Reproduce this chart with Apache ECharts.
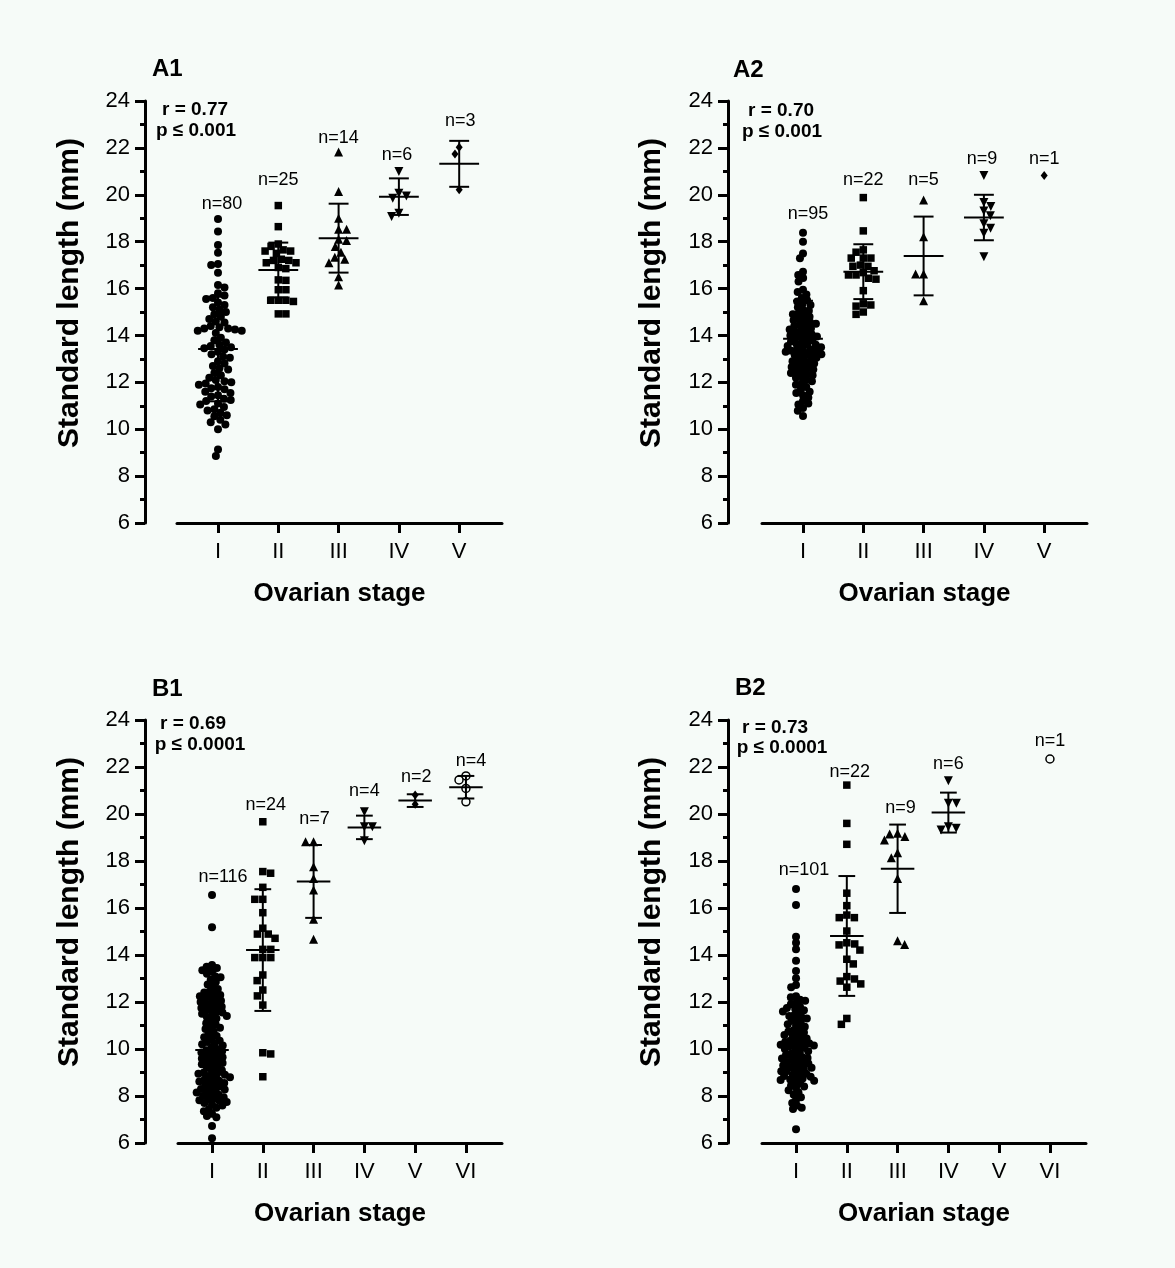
<!DOCTYPE html>
<html>
<head>
<meta charset="utf-8">
<script src="https://cdn.jsdelivr.net/npm/echarts@6.0.0/dist/echarts.min.js"></script>
<style>
html,body{margin:0;padding:0;background:#f6fbf8;}
#chart{width:1175px;height:1268px;}
</style>
</head>
<body>
<div id="chart"></div>
<script>
// ---------------- DATA ----------------
const STAGES_A = ['I', 'II', 'III', 'IV', 'V'];
const STAGES_B = ['I', 'II', 'III', 'IV', 'V', 'VI'];
const Y_TICKS = [6, 8, 10, 12, 14, 16, 18, 20, 22, 24];

// Panel A1
const A1_I = [18.97, 18.43, 17.86, 17.53, 17.05, 17.0, 16.67, 16.15, 16.05,
  15.8, 15.7, 15.6, 15.55, 15.4, 15.3, 15.2, 15.1, 15.0,
  14.9, 14.8, 14.7, 14.6, 14.55, 14.4, 14.35, 14.3, 14.3, 14.25, 14.2, 14.2, 14.1,
  13.9, 13.8, 13.7, 13.6, 13.55, 13.5, 13.45, 13.4, 13.3, 13.2, 13.1, 13.05,
  12.9, 12.8, 12.7, 12.6, 12.55, 12.4, 12.3, 12.2, 12.1, 12.05, 12.0,
  11.95, 11.9, 11.8, 11.75, 11.7, 11.6, 11.55, 11.45, 11.4, 11.3, 11.25, 11.2, 11.1, 11.05,
  10.95, 10.85, 10.8, 10.7, 10.6, 10.55, 10.4, 10.3, 10.2, 10.0, 9.14, 8.86];
const A1_II = [19.54, 18.64, 17.9, 17.8, 17.65, 17.6, 17.6, 17.5, 17.25, 17.2, 17.2, 17.1, 17.1,
  16.9, 16.85, 16.37, 16.35, 15.95, 15.95, 15.5, 15.5, 15.5, 15.45, 14.92, 14.92];
const A1_III = [21.82, 20.14, 19.0, 18.53, 18.53, 18.1, 18.05, 17.79, 17.55, 17.33, 17.25, 17.1, 16.5, 16.15];
const A1_IV = [20.99, 20.07, 19.95, 19.85, 19.21, 19.07];
const A1_V = [22.03, 21.74, 20.21];
const A1_MEAN = [13.42, 16.79, 18.15, 19.92, 21.32];
const A1_SD = [2.23, 1.17, 1.47, 0.78, 0.98];

// Panel A2
const A2_I = [18.38, 18.0, 17.5, 17.29, 16.72, 16.58, 16.45, 16.3,
  15.95, 15.85, 15.75, 15.6, 15.5, 15.45, 15.35, 15.3, 15.2, 15.1, 15.05,
  14.95, 14.9, 14.85, 14.8, 14.7, 14.65, 14.6, 14.55, 14.5,
  14.45, 14.4, 14.35, 14.3, 14.25, 14.2, 14.15, 14.1, 14.05, 14.0,
  13.95, 13.95, 13.9, 13.85, 13.8, 13.75, 13.7, 13.65, 13.6, 13.6, 13.55, 13.5,
  13.45, 13.4, 13.4, 13.35, 13.3, 13.3, 13.25, 13.2, 13.2, 13.15, 13.1, 13.05, 13.0,
  12.95, 12.9, 12.85, 12.8, 12.75, 12.7, 12.65, 12.6, 12.55, 12.5,
  12.45, 12.4, 12.35, 12.3, 12.25, 12.2, 12.1, 12.05,
  11.95, 11.9, 11.8, 11.7, 11.6, 11.55, 11.45, 11.35, 11.2, 11.1, 11.05,
  10.9, 10.79, 10.56];
const A2_II = [19.88, 18.46, 17.65, 17.55, 17.3, 17.3, 17.3, 17.0, 16.95, 16.95, 16.76, 16.68,
  16.58, 16.58, 16.44, 16.4, 15.91, 15.35, 15.3, 15.25, 15.0, 14.9];
const A2_III = [19.78, 18.21, 16.62, 16.62, 15.48];
const A2_IV = [20.82, 19.67, 19.5, 19.31, 19.11, 18.76, 18.57, 18.36, 17.36];
const A2_V = [20.82];
const A2_MEAN = [13.86, 16.72, 17.39, 19.03, 20.82];
const A2_SD = [1.62, 1.17, 1.68, 0.97, 0];

// Panel B1
const B1_I = [16.55, 15.18,
  13.57, 13.5, 13.45, 13.35, 13.3, 13.2, 13.1, 13.05,
  12.95, 12.85, 12.75, 12.65, 12.55,
  12.45, 12.4, 12.35, 12.3, 12.25, 12.2, 12.15, 12.1, 12.05, 12.0,
  11.95, 11.9, 11.85, 11.8, 11.75, 11.7, 11.65, 11.6, 11.55, 11.5,
  11.45, 11.4, 11.35, 11.3, 11.2, 11.1, 11.05,
  10.95, 10.9, 10.85, 10.75, 10.65, 10.55, 10.5,
  10.45, 10.35, 10.3, 10.25, 10.2, 10.15, 10.05, 10.0,
  9.95, 9.9, 9.85, 9.8, 9.75, 9.7, 9.65, 9.6, 9.55, 9.5,
  9.45, 9.4, 9.35, 9.3, 9.25, 9.2, 9.1, 9.05, 9.0,
  8.95, 8.95, 8.9, 8.85, 8.8, 8.75, 8.7, 8.65, 8.62, 8.6, 8.55, 8.5,
  8.45, 8.4, 8.35, 8.3, 8.28, 8.25, 8.2, 8.15, 8.1, 8.05, 8.0,
  7.95, 7.9, 7.85, 7.82, 7.8, 7.75, 7.7, 7.65, 7.6, 7.5,
  7.45, 7.35, 7.25, 7.15, 7.1, 6.72, 6.2];
const B1_II = [19.67, 17.55, 17.48, 16.88, 16.37, 16.37, 15.8, 15.14, 14.89, 14.89, 14.71, 14.24,
  14.24, 13.89, 13.89, 13.89, 13.15, 12.91, 12.51, 12.26, 11.87, 9.84, 9.79, 8.82];
const B1_III = [18.82, 18.82, 17.76, 17.26, 16.77, 15.52, 14.67];
const B1_IV = [20.1, 19.46, 19.46, 18.86];
const B1_V = [20.81, 20.41];
const B1_VI = [21.62, 21.45, 21.09, 20.52];
const B1_MEAN = [9.96, 14.21, 17.13, 19.43, 20.57, 21.14];
const B1_SD = [1.95, 2.59, 1.55, 0.5, 0.27, 0.48];

// Panel B2
const B2_I = [16.81, 16.13, 14.78, 14.52, 14.24, 13.76, 13.32, 13.01, 12.72, 12.63,
  12.25, 12.2, 12.1, 12.05,
  11.95, 11.9, 11.8, 11.75, 11.7, 11.65, 11.6, 11.55,
  11.45, 11.4, 11.35, 11.3, 11.25, 11.2, 11.1, 11.05, 11.0,
  10.95, 10.85, 10.8, 10.75, 10.7, 10.65, 10.6, 10.55, 10.5,
  10.45, 10.4, 10.35, 10.3, 10.28, 10.25, 10.2, 10.18, 10.15, 10.12, 10.1, 10.05, 10.0,
  9.95, 9.9, 9.85, 9.8, 9.75, 9.7, 9.65, 9.62, 9.6, 9.55, 9.5,
  9.45, 9.4, 9.38, 9.35, 9.3, 9.25, 9.22, 9.2, 9.15, 9.1, 9.05, 9.05, 9.0,
  8.95, 8.9, 8.85, 8.82, 8.8, 8.75, 8.7, 8.68, 8.65, 8.6, 8.55,
  8.45, 8.4, 8.35, 8.25, 8.15, 8.05,
  7.95, 7.85, 7.7, 7.6, 7.5, 7.45, 6.58];
const B2_II = [21.23, 19.6, 18.71, 16.63, 16.1, 15.7, 15.59, 15.59, 15.02, 14.52, 14.47, 14.43,
  14.21, 13.82, 13.62, 13.08, 12.98, 12.89, 12.77, 12.63, 11.3, 11.05];
const B2_III = [19.18, 19.15, 19.04, 18.89, 18.35, 18.14, 17.26, 14.61, 14.45];
const B2_IV = [21.42, 20.46, 20.46, 19.46, 19.39, 19.32];
const B2_V = [];
const B2_VI = [22.34];
const B2_MEAN = [10.27, 14.81, 17.67, 20.06, null, 22.34];
const B2_SD = [1.84, 2.55, 1.88, 0.85, null, 0];

const STATS_TEXT = {
  A1: ['r = 0.77', 'p ≤ 0.001'],
  A2: ['r = 0.70', 'p ≤ 0.001'],
  B1: ['r = 0.69', 'p ≤ 0.0001'],
  B2: ['r = 0.73', 'p ≤ 0.0001']
};
const Y_NAME = 'Standard length (mm)';
const X_NAME = 'Ovarian stage';

// ---------------- LAYOUT ----------------
const FONT = "'Liberation Sans', Arial, Helvetica, sans-serif";
const BG = '#f6fbf8';
const INK = '#000000';
const LAYOUT = {
  A1: {grid: {left: 177, top: 101, width: 325, height: 422}, xmin: 0.32, xmax: 5.71, yOffset: 32,
       title: [152, 69], r: [195, 110], p: [196, 131], yName: [70, 293],
       swarmD: [6.9, 7.6, 8, 8, 8],
       nLabY: [19.61, 20.63, 22.42, 21.70, 23.15], nLabDx: [4, 0, 0, -2, 1]},
  A2: {grid: {left: 762, top: 101, width: 325, height: 422}, xmin: 0.32, xmax: 5.71, yOffset: 34,
       title: [733, 70], r: [781, 111], p: [782, 132], yName: [652, 293],
       swarmD: [5.8, 7.6, 8, 8, 8],
       nLabY: [19.18, 20.63, 20.63, 21.53, 21.53], nLabDx: [5, 0, 0, -2, 0]},
  B1: {grid: {left: 178, top: 720, width: 324, height: 423}, xmin: 0.33, xmax: 6.71, yOffset: 33,
       title: [152, 689], r: [193, 724], p: [200, 745], yName: [70, 912],
       swarmD: [5.6, 8, 8, 8, 8, 8],
       nLabY: [17.32, 20.38, 19.79, 20.98, 21.57, 22.26], nLabDx: [11, 3, 1, 0, 1, 5]},
  B2: {grid: {left: 762, top: 720, width: 324, height: 423}, xmin: 0.33, xmax: 6.71, yOffset: 34,
       title: [735, 688], r: [775, 728], p: [782, 748], yName: [652, 912],
       swarmD: [5.3, 8, 8, 8, 8, 8],
       nLabY: [17.62, 21.79, 20.26, 22.13, null, 23.11], nLabDx: [8, 3, 3, 0, 0, 0]}
};
const SYMBOLS = [
  {symbol: 'circle', size: 8, fill: INK},
  {symbol: 'rect', size: 7.5, fill: INK},
  {symbol: 'triangle', size: 9, fill: INK},
  {symbol: 'path://M0,0L10,0L5,9Z', size: 9, fill: INK},
  {symbol: 'diamond', size: [7, 9], fill: INK},
  {symbol: 'circle', size: 8, fill: BG, border: 1.5}
];

const PANELS = [
  {key: 'A1', stages: STAGES_A, groups: [A1_I, A1_II, A1_III, A1_IV, A1_V], means: A1_MEAN, sds: A1_SD},
  {key: 'A2', stages: STAGES_A, groups: [A2_I, A2_II, A2_III, A2_IV, A2_V], means: A2_MEAN, sds: A2_SD},
  {key: 'B1', stages: STAGES_B, groups: [B1_I, B1_II, B1_III, B1_IV, B1_V, B1_VI], means: B1_MEAN, sds: B1_SD},
  {key: 'B2', stages: STAGES_B, groups: [B2_I, B2_II, B2_III, B2_IV, B2_V, B2_VI], means: B2_MEAN, sds: B2_SD}
];

// beeswarm layout: horizontal pixel offsets so that markers do not overlap
function swarm(values, pxPerY, D) {
  const order = values.map((v, i) => i).sort((a, b) => values[b] - values[a]);
  const placed = [];
  const out = new Array(values.length).fill(0);
  let flip = 1;
  for (const i of order) {
    const y = values[i] * pxPerY;
    const near = placed.filter(p => Math.abs(p.y - y) < D);
    const cands = [0];
    near.forEach(p => {
      const w = Math.sqrt(D * D - (p.y - y) * (p.y - y));
      cands.push(p.x + w, p.x - w);
    });
    const f = flip;
    cands.sort((a, b) => (Math.abs(a) - Math.abs(b)) || (f > 0 ? b - a : a - b));
    let best = 0;
    for (const c of cands) {
      if (near.every(p => (p.x - c) * (p.x - c) + (p.y - y) * (p.y - y) >= D * D - 1e-6)) { best = c; break; }
    }
    flip = -flip;
    placed.push({x: best, y: y});
    out[i] = best;
  }
  return out;
}

const grids = [], xAxes = [], yAxes = [], series = [], graphics = [];
const axisLineStyle = {color: INK, width: 3};

PANELS.forEach((P, pi) => {
  const L = LAYOUT[P.key];
  grids.push(Object.assign({containLabel: false}, L.grid));
  const cats = P.stages.map((s, i) => i + 1);
  xAxes.push({
    gridIndex: pi, type: 'value', min: L.xmin, max: L.xmax,
    name: X_NAME, nameLocation: 'middle', nameGap: 58,
    nameTextStyle: {fontFamily: FONT, fontSize: 26, fontWeight: 'bold', color: INK},
    axisLine: {show: true, lineStyle: axisLineStyle},
    axisTick: {show: true, length: 10, lineStyle: {color: INK, width: 3}, customValues: cats},
    axisLabel: {show: true, customValues: cats, margin: 18, fontFamily: FONT, fontSize: 22, color: INK,
      formatter: v => P.stages[Math.round(v) - 1] || ''},
    splitLine: {show: false}
  });
  yAxes.push({
    gridIndex: pi, type: 'value', min: 6, max: 24, interval: 2, offset: L.yOffset,
    axisLine: {show: true, lineStyle: axisLineStyle},
    axisTick: {show: true, length: 10, lineStyle: {color: INK, width: 3}},
    minorTick: {show: true, splitNumber: 2, length: 5, lineStyle: {color: INK, width: 3}},
    axisLabel: {margin: 15, fontFamily: FONT, fontSize: 22, color: INK,
      customValues: Y_TICKS},
    splitLine: {show: false}
  });

  const pxPerY = L.grid.height / (24 - 6);
  const pxPerX = L.grid.width / (L.xmax - L.xmin);

  P.groups.forEach((vals, gi) => {
    if (!vals.length) return;
    const offs = swarm(vals, pxPerY, L.swarmD[gi]);
    const sym = SYMBOLS[gi];
    series.push({
      type: 'scatter', xAxisIndex: pi, yAxisIndex: pi,
      symbol: sym.symbol, symbolSize: sym.size,
      itemStyle: sym.border ? {color: sym.fill, borderColor: INK, borderWidth: sym.border, opacity: 1}
                            : {color: sym.fill, opacity: 1},
      data: vals.map((v, i) => [gi + 1 + offs[i] / pxPerX, v]),
      z: 3, silent: true, animation: false
    });
  });

  // mean +/- SD bars
  const barData = [];
  P.means.forEach((m, gi) => {
    if (m == null || P.groups[gi].length < 2) return;
    barData.push([gi + 1, m, P.sds[gi]]);
  });
  series.push({
    type: 'custom', xAxisIndex: pi, yAxisIndex: pi, data: barData, z: 4, silent: true, animation: false,
    clip: false,
    renderItem: (params, api) => {
      const x = api.value(0), m = api.value(1), s = api.value(2);
      const c = api.coord([x, m]);
      const t = api.coord([x, m + s]);
      const b = api.coord([x, m - s]);
      const unit = api.size([1, 0])[0];
      const hw = unit * 0.33, cw = unit * 0.165;
      const st = {stroke: INK, lineWidth: 2};
      return {type: 'group', children: [
        {type: 'line', shape: {x1: c[0] - hw, y1: c[1], x2: c[0] + hw, y2: c[1]}, style: st},
        {type: 'line', shape: {x1: c[0], y1: t[1], x2: c[0], y2: b[1]}, style: st},
        {type: 'line', shape: {x1: c[0] - cw, y1: t[1], x2: c[0] + cw, y2: t[1]}, style: st},
        {type: 'line', shape: {x1: c[0] - cw, y1: b[1], x2: c[0] + cw, y2: b[1]}, style: st}
      ]};
    }
  });

  // n= labels
  const labData = [];
  P.groups.forEach((vals, gi) => {
    if (!vals.length || L.nLabY[gi] == null) return;
    labData.push([gi + 1, L.nLabY[gi], vals.length, L.nLabDx[gi]]);
  });
  series.push({
    type: 'custom', xAxisIndex: pi, yAxisIndex: pi, data: labData, z: 5, silent: true, animation: false,
    clip: false,
    renderItem: (params, api) => {
      const c = api.coord([api.value(0), api.value(1)]);
      return {type: 'text', x: c[0] + api.value(3), y: c[1],
        style: {text: 'n=' + api.value(2), fontFamily: FONT, fontSize: 18, fill: INK,
          textAlign: 'center', textVerticalAlign: 'middle'}};
    }
  });

  // titles, axis title and stats text
  graphics.push({type: 'text', x: L.title[0], y: L.title[1],
    style: {text: P.key, fontFamily: FONT, fontSize: 24, fontWeight: 'bold', fill: INK,
      textAlign: 'left', textVerticalAlign: 'middle'}});
  graphics.push({type: 'text', x: L.yName[0], y: L.yName[1], rotation: Math.PI / 2,
    style: {text: Y_NAME, fontFamily: FONT, fontSize: 30, fontWeight: 'bold', fill: INK,
      textAlign: 'center', textVerticalAlign: 'middle'}});
  graphics.push({type: 'text', x: L.r[0], y: L.r[1],
    style: {text: STATS_TEXT[P.key][0], fontFamily: FONT, fontSize: 19, fontWeight: 'bold', fill: INK,
      textAlign: 'center', textVerticalAlign: 'middle'}});
  graphics.push({type: 'text', x: L.p[0], y: L.p[1],
    style: {text: STATS_TEXT[P.key][1], fontFamily: FONT, fontSize: 19, fontWeight: 'bold', fill: INK,
      textAlign: 'center', textVerticalAlign: 'middle'}});
});

const chart = echarts.init(document.getElementById('chart'), null, {renderer: 'canvas'});
chart.setOption({
  backgroundColor: BG,
  animation: false,
  grid: grids,
  xAxis: xAxes,
  yAxis: yAxes,
  series: series,
  graphic: graphics
});
</script>
</body>
</html>
